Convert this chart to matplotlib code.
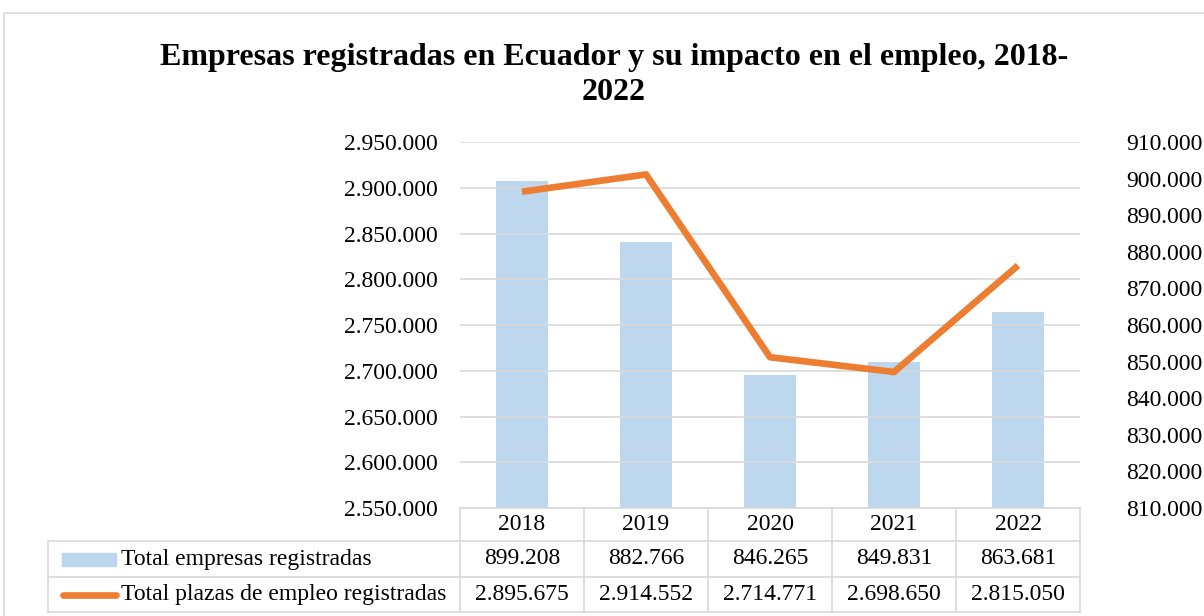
import numpy as np
import matplotlib.pyplot as plt
from matplotlib.transforms import blended_transform_factory

years = ["2018", "2019", "2020", "2021", "2022"]
empresas = [899208, 882766, 846265, 849831, 863681]
plazas = [2895675, 2914552, 2714771, 2698650, 2815050]
serie_bar = "Total empresas registradas"
serie_line = "Total plazas de empleo registradas"
titulo = "Empresas registradas en Ecuador y su impacto en el empleo, 2018-\n2022"


def fmt(v):
    return "{:,}".format(int(v)).replace(",", ".")


plt.rcParams['font.family'] = ['Liberation Serif', 'DejaVu Serif']

bar_col = "#BDD7EE"
line_col = "#ED7D31"
grid_col = "#D9D9D9"
fs = 17

fig = plt.figure(figsize=(12.04, 6.16), dpi=100)
# outer chart border
fig.patches.append(plt.Rectangle((4/1204, -0.1), 1.2, (616-13)/616 + 0.1, transform=fig.transFigure,
                                 fill=False, edgecolor=grid_col, lw=1.2))

ax = fig.add_axes([460/1204, (616-508)/616, 620/1204, 366/616])
ax2 = ax.twinx()
x = np.arange(len(years))

# line on left axis, bars on right axis
ax.set_ylim(2550000, 2950000)
ax.set_yticks(np.arange(2550000, 2950001, 50000))
ax.set_yticklabels([fmt(v) for v in np.arange(2550000, 2950001, 50000)], fontsize=fs)
ax.grid(axis='y', color=grid_col, lw=1.2)
ax.set_axisbelow(True)

ax2.set_ylim(810000, 910000)
ax2.set_yticks(np.arange(810000, 910001, 10000))
ax2.set_yticklabels([fmt(v) for v in np.arange(810000, 910001, 10000)], fontsize=fs)
ax2.bar(x, empresas, width=0.42, color=bar_col, zorder=1)

# draw line above bars
ax.set_zorder(ax2.get_zorder() + 1)
ax.patch.set_visible(False)
ax.plot(x, plazas, color=line_col, lw=4.8, solid_capstyle='butt', zorder=3)

for a in (ax, ax2):
    a.set_xlim(-0.5, len(years) - 0.5)
    for s in a.spines.values():
        s.set_visible(False)
    a.tick_params(length=0)
    a.set_xticks([])
ax.tick_params(axis='y', pad=16)
ax2.tick_params(axis='y', pad=33)

fig.text(614/1204, 1 - 75/616, titulo, ha='center', va='center', fontsize=23, fontweight='bold',
         linespacing=1.3)

# data table beneath the plot
tr = blended_transform_factory(ax.transData, fig.transFigure)
ftr = fig.transFigure
y_top = (616-508)/616
y_r1 = (616-541)/616
y_r2 = (616-577)/616
y_bot = (616-612)/616
x_leg = 48/1204
x0 = -0.5
x1 = len(years) - 0.5
lk = dict(color=grid_col, lw=1.2, clip_on=False)

ax.plot([x0, x1], [y_top, y_top], transform=tr, **lk)
for yy in (y_r1, y_r2, y_bot):
    fig.add_artist(plt.Line2D([x_leg, 1080/1204], [yy, yy], transform=ftr, **lk))
fig.add_artist(plt.Line2D([x_leg, x_leg], [y_r1, y_bot], transform=ftr, **lk))
for i in range(len(years) + 1):
    xi = i - 0.5
    ax.plot([xi, xi], [y_top, y_bot], transform=tr, **lk)

for i, yr in enumerate(years):
    ax.text(i, (y_top + y_r1) / 2, yr, transform=tr, ha='center', va='center', fontsize=fs)
    ax.text(i, (y_r1 + y_r2) / 2, fmt(empresas[i]), transform=tr, ha='center', va='center', fontsize=fs)
    ax.text(i, (y_r2 + y_bot) / 2, fmt(plazas[i]), transform=tr, ha='center', va='center', fontsize=fs)

ym1 = (y_r1 + y_r2) / 2
ym2 = (y_r2 + y_bot) / 2
fig.add_artist(plt.Rectangle((62/1204, ym1 - 7/616), 54/1204, 13/616, transform=ftr, color=bar_col))
fig.add_artist(plt.Line2D([63/1204, 116/1204], [ym2, ym2], transform=ftr, color=line_col, lw=4.8,
                          solid_capstyle='round'))
fig.text(121/1204, ym1, serie_bar, ha='left', va='center', fontsize=fs)
fig.text(121/1204, ym2, serie_line, ha='left', va='center', fontsize=fs)

fig.savefig("out.png", dpi=100)
